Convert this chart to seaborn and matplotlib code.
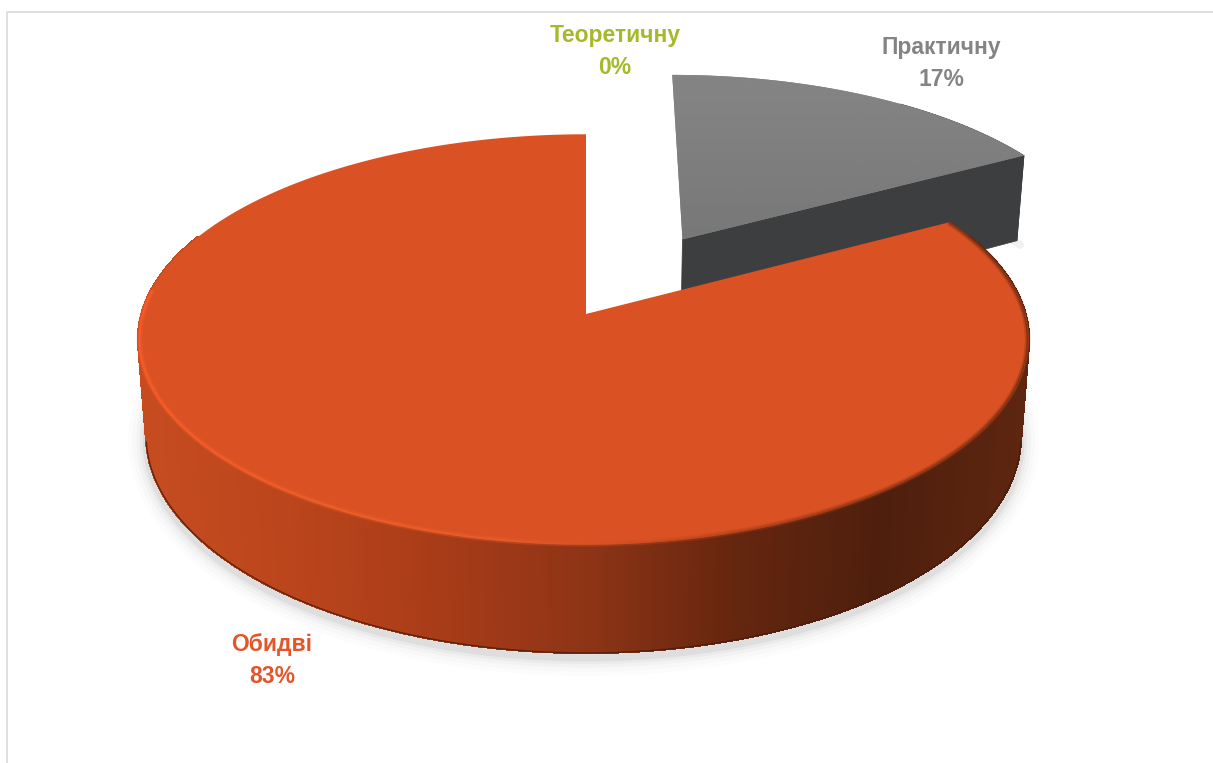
import numpy as np
import matplotlib
matplotlib.use("Agg")
import matplotlib.pyplot as plt
import seaborn as sns
from matplotlib.collections import PolyCollection, LineCollection

# Data
labels = ["Теоретичну", "Практичну", "Обидві"]
values = [0, 17, 83]
explode = [0, 0.45, 0]
label_colors = ["#a5b92a", "#848484", "#e2562a"]
label_pos = [(615, 51.5), (941, 63.5), (272, 660.5)]

# 3d look
cx, cy = 586, 314
ax_a, ax_b = 442, 202
depth = 101
k, m = 0.124, 0.018


def project(x, y, z=0.0):
    x, y = np.asarray(x, float), np.asarray(y, float)
    w = 1 + k * y + m * z
    d = depth * (1 - 0.042 * (y + 1))
    return np.column_stack([cx + ax_a * x / w - 2.5 * x ** 2, cy + (d * z - ax_b * y) / w])


def arc(wedge, n=300):
    t = np.radians(np.linspace(wedge.theta1, wedge.theta2, n))
    return t, wedge.center[0] + wedge.r * np.cos(t), wedge.center[1] + wedge.r * np.sin(t)


def strips(x, y):
    top, bottom = project(x, y), project(x, y, 1)
    return [np.array([top[i], top[i + 1], bottom[i + 1], bottom[i]]) for i in range(len(x) - 1)]


sns.set_theme(style="white")
plt.rcParams["font.family"] = ["Liberation Sans", "DejaVu Sans"]

fig = plt.figure(figsize=(12.13, 7.63), dpi=100)
ax = fig.add_axes([0, 0, 1, 1])
wedges, _ = ax.pie(values, explode=explode, startangle=90, counterclock=False, radius=1)
practical, both = wedges[1], wedges[2]
for w in wedges:
    w.set_visible(False)
ax.set_aspect("auto")

# chart frame
ax.plot([7, 7, 1213], [763, 12, 12], color="#d9d9d9", lw=1.2, zorder=1)

wall_ramp = sns.blend_palette(["#c64c20", "#bb451c", "#a83c18", "#8e3416", "#65260f", "#4e1f0d", "#5e2610"], 256)

# soft shadow below the slices
_, bx, by = arc(both, 400)
shadow = project(bx, by, 1) + [0, 5]
shadow = shadow[(by < 0.3)]
for lw, alpha in [(26, 0.012), (20, 0.016), (14, 0.022), (9, 0.03), (5, 0.05)]:
    ax.plot(shadow[:, 0], shadow[:, 1], color="black", lw=lw, alpha=alpha, zorder=2)
pt, px, py = arc(practical, 60)
front = pt < pt[0] + np.radians(25)
pshadow = project(px[front], py[front], 1) + [3, 4]
ax.plot(pshadow[:, 0], pshadow[:, 1], color="black", lw=6, alpha=0.05, zorder=2)

# grey slice: walls then top
gx, gy = practical.center
wall = strips(px[front], py[front])
ax.add_collection(PolyCollection(wall, facecolors="#3d3e3f", edgecolors="#3d3e3f", lw=0.5, zorder=3))
rim_x = px[0]
rim_y = py[0]
face = np.vstack([project([gx, rim_x], [gy, rim_y]), project([rim_x, gx], [rim_y, gy], 1)])
ax.fill(face[:, 0], face[:, 1], color="#3d3e3f", lw=0.5, zorder=3)
outline = np.vstack([project([gx], [gy]), project(px, py)])
top_patch = ax.fill(outline[:, 0], outline[:, 1], color="#808080", lw=0, zorder=4)[0]
shade = np.linspace(0.52, 0.47, 64).reshape(-1, 1)
img = ax.imshow(shade, cmap="gray", vmin=0, vmax=1, aspect="auto", zorder=4.5,
                extent=(outline[:, 0].min(), outline[:, 0].max(), outline[:, 1].max(), outline[:, 1].min()))
img.set_clip_path(top_patch)

# orange slice: wall then top
_, bx, by = arc(both, 900)
seen = by < 0.4
wall = strips(bx[seen], by[seen])
xs = np.array([q[:, 0].mean() for q in wall])
idx = np.clip((xs - 145) / (1027 - 145) * 255, 0, 255).astype(int)
cols = [wall_ramp[i] for i in idx]
# the slice is cut by the notch so strips over the jump are dropped
steps = np.array([np.abs(q[1, 0] - q[0, 0]) for q in wall])
ok = steps < 20
ax.add_collection(PolyCollection([q for q, f in zip(wall, ok) if f], facecolors=[c for c, f in zip(cols, ok) if f],
                                 edgecolors=[c for c, f in zip(cols, ok) if f], lw=1.0, antialiased=False, zorder=5))
low = project(bx, by, 1)
low = low[by < -0.15]
ax.plot(low[:, 0], low[:, 1], color="#4a1c0a", lw=1.0, alpha=0.8, zorder=5.5)

outline = np.vstack([project([both.center[0]], [both.center[1]]), project(bx, by)])
ax.fill(outline[:, 0], outline[:, 1], color="#da5224", lw=0, zorder=6)

# bevel light along the front rim
rim = project(bx * 0.997, by * 0.997)
segs = np.stack([rim[:-1], rim[1:]], axis=1)
rim_ramp = sns.blend_palette(["#ff5f2a", "#f4622c", "#ec5f2c", "#c9481f", "#8e3414", "#6e2a10"], 256)
idx = np.clip((segs[:, 0, 0] - 137) / (1027 - 137) * 255, 0, 255).astype(int)
rim_cols = [rim_ramp[i] for i in idx]
keep = (segs[:, 0, 1] > 290) | (segs[:, 0, 0] > 700)
segs, rim_cols = segs[keep], np.array(rim_cols)[keep]
ax.add_collection(LineCollection(segs, colors=rim_cols, lw=4, alpha=0.3, zorder=7))
ax.add_collection(LineCollection(segs, colors=rim_cols, lw=1.6, alpha=0.7, zorder=7))

# data labels
for name, val, col, (lx, ly) in zip(labels, values, label_colors, label_pos):
    ax.text(lx, ly, f"{name}\n{val}%", color=col, ha="center", va="center",
            fontsize=16.5, fontweight="bold", linespacing=1.48, zorder=8)

ax.set_xlim(0, 1213)
ax.set_ylim(763, 0)
ax.axis("off")
fig.savefig("out.png", dpi=100)
